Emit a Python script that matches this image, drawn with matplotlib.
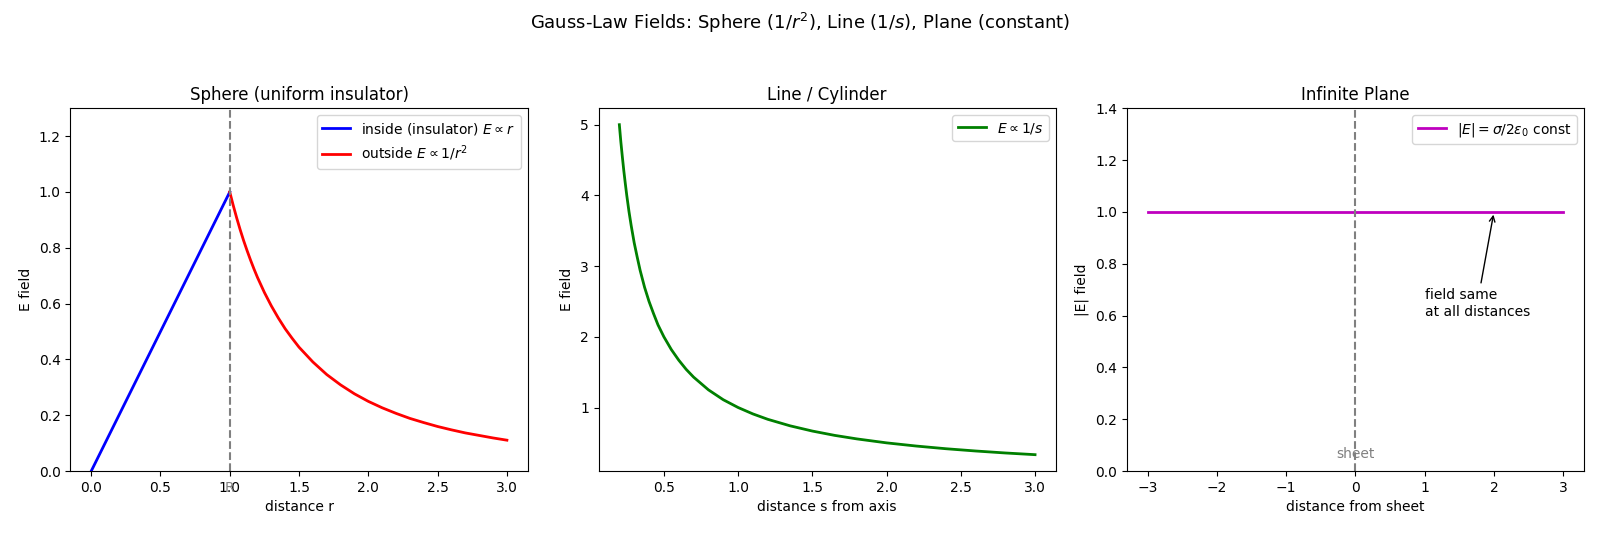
import matplotlib
matplotlib.use("Agg")
import matplotlib.pyplot as plt

# Sphere: inside (linear) and outside (1/r^2)
SphereRIn = [0.0, 1.0]
SphereEIn = [0.0, 1.0]
SphereROut = [1.0, 1.025, 1.05, 1.075, 1.1, 1.125, 1.15, 1.175, 1.2, 1.25, 1.3, 1.35,
              1.4, 1.45, 1.5, 1.6, 1.7, 1.8, 1.9, 2.0, 2.1, 2.2, 2.3, 2.4, 2.5, 2.6,
              2.7, 2.8, 2.9, 3.0]
SphereEOut = [1.0, 0.952, 0.907, 0.865, 0.826, 0.790, 0.756, 0.724, 0.694, 0.640,
              0.592, 0.549, 0.510, 0.476, 0.444, 0.391, 0.346, 0.309, 0.277, 0.250,
              0.227, 0.207, 0.189, 0.174, 0.160, 0.148, 0.137, 0.128, 0.119, 0.111]

# Line / cylinder: E ~ 1/s
LineS = [0.2, 0.21, 0.22, 0.23, 0.24, 0.25, 0.265, 0.28, 0.3, 0.32, 0.34, 0.37, 0.4,
         0.43, 0.46, 0.5, 0.55, 0.6, 0.65, 0.7, 0.8, 0.9, 1.0, 1.1, 1.2, 1.35, 1.5,
         1.65, 1.8, 2.0, 2.2, 2.4, 2.6, 2.8, 3.0]
LineE = [5.0, 4.76, 4.55, 4.35, 4.17, 4.0, 3.77, 3.57, 3.33, 3.13, 2.94, 2.70, 2.5,
         2.33, 2.17, 2.0, 1.82, 1.67, 1.54, 1.43, 1.25, 1.11, 1.0, 0.909, 0.833,
         0.741, 0.667, 0.606, 0.556, 0.5, 0.455, 0.417, 0.385, 0.357, 0.333]

# Infinite plane: constant field
PlaneX = [-3.0, 3.0]
PlaneE = [1.0, 1.0]

fig, axes = plt.subplots(1, 3, figsize=(16, 5.33), dpi=100)
fig.subplots_adjust(left=0.044, right=0.99, top=0.797, bottom=0.116, wspace=0.155)
fig.suptitle(r'Gauss-Law Fields: Sphere ($1/r^2$), Line ($1/s$), Plane (constant)', fontsize=13)

# Sphere
ax = axes[0]
ax.plot(SphereRIn, SphereEIn, color='b', lw=2, label=r'inside (insulator) $E\propto r$')
ax.plot(SphereROut, SphereEOut, color='r', lw=2, label=r'outside $E\propto 1/r^2$')
ax.axvline(1.0, color='gray', ls='--', lw=1.5)
ax.text(1.0, -0.06, 'R', color='gray', ha='center', va='center')
ax.set_ylim(0, 1.3)
ax.set_xlabel('distance r')
ax.set_ylabel('E field')
ax.set_title('Sphere (uniform insulator)')
ax.legend(loc='upper right')

# Line
ax = axes[1]
ax.plot(LineS, LineE, color='g', lw=2, label=r'$E\propto 1/s$')
ax.set_xlabel('distance s from axis')
ax.set_ylabel('E field')
ax.set_title('Line / Cylinder')
ax.legend(loc='upper right')

# Plane
ax = axes[2]
ax.plot(PlaneX, PlaneE, color='m', lw=2, label=r'$|E|=\sigma/2\varepsilon_0$ const')
ax.axvline(0.0, color='gray', ls='--', lw=1.5)
ax.text(0.0, 0.05, 'sheet', color='gray', ha='center')
ax.annotate('field same\nat all distances', xy=(2, 1.0), xytext=(1, 0.6),
            arrowprops=dict(arrowstyle='->', color='k'))
ax.set_ylim(0, 1.4)
ax.set_xlabel('distance from sheet')
ax.set_ylabel('|E| field')
ax.set_title('Infinite Plane')
ax.legend(loc='upper right')

plt.savefig('out.png')
